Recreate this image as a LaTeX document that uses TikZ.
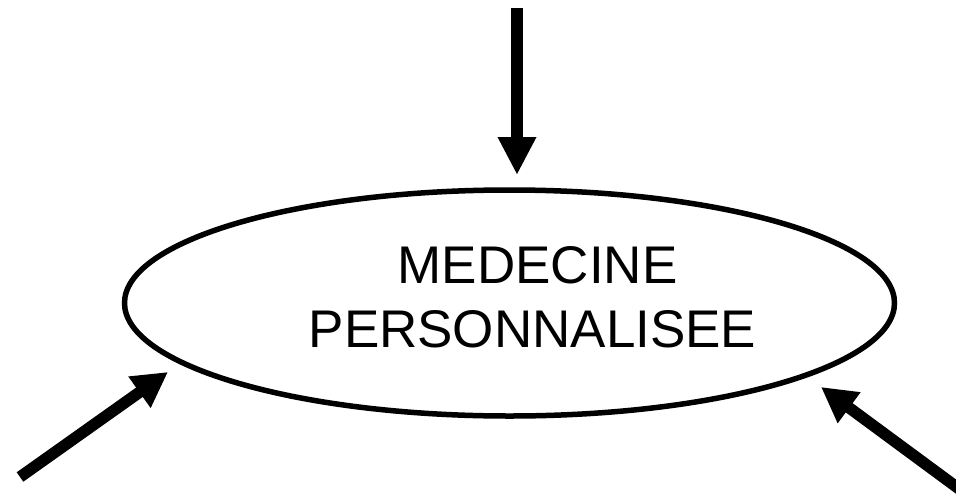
\documentclass[tikz,border=0pt]{standalone}
\usepackage{fontspec}
\setmainfont{Liberation Sans}
\usetikzlibrary{shapes.geometric,arrows.meta}
\begin{document}
\begin{tikzpicture}[x=1pt,y=-1pt,
  ellbox/.style={draw,ellipse,line width=5.5pt,minimum width=770pt,minimum height=226pt,inner sep=0pt},
  lbl/.style={anchor=base,inner sep=0pt,font=\fontsize{53pt}{64pt}\selectfont},
  bigarrow/.style={line width=11.5pt,-{Triangle[length=#1,width=36pt]}},
  bigarrow/.default=35pt]
\useasboundingbox (0,0) rectangle (956,496);
\node[ellbox] (ell) at (509.5,303) {};
\node[lbl] (t1) at (537.5,283) {MEDECINE};
\node[lbl] (t2) at (532.5,347) {PERSONNALISEE};
\coordinate (topS) at (517,8);
\coordinate (topE) at (517,175);
\coordinate (leftS) at (20,477);
\coordinate (leftE) at (168,372);
\coordinate (rightS) at (962,491);
\coordinate (rightE) at (821,387);
\draw[bigarrow=38pt] (topS) -- (topE);
\draw[bigarrow] (leftS) -- (leftE);
\draw[bigarrow] (rightS) -- (rightE);
\end{tikzpicture}
\end{document}
